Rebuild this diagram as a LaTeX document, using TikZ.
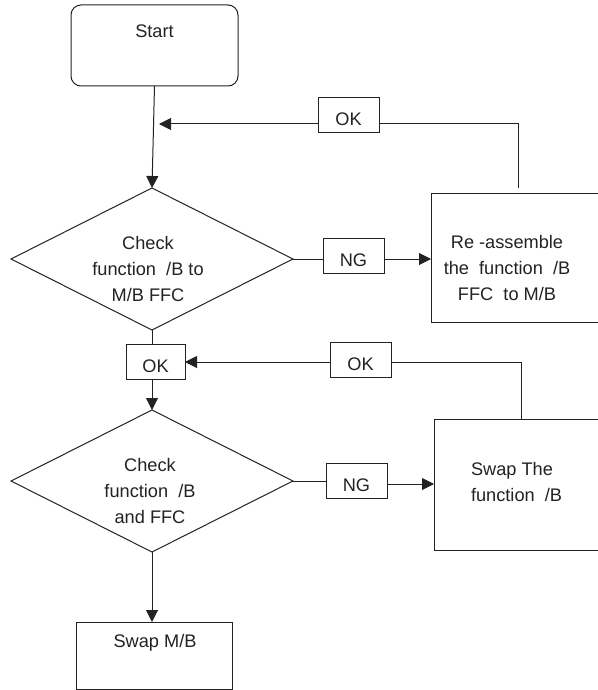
\documentclass[tikz,border=0pt]{standalone}
\usepackage{fontspec}
\setmainfont{Liberation Sans}
\usetikzlibrary{shapes.geometric,arrows.meta,calc}
\definecolor{ink}{HTML}{222222}
\begin{document}
\begin{tikzpicture}[x=1pt,y=-1pt,
  every node/.style={inner sep=0pt, outer sep=0pt, text=ink, font=\fontsize{18.2}{26}\selectfont},
  ln/.style={draw=ink, line width=1pt},
  arr/.style={ln, -{Triangle[length=12pt,width=12pt]}},
  box/.style={ln, rectangle},
  tag/.style={box, minimum width=61pt, minimum height=35pt, text height=21pt, text depth=0pt},
  dia/.style={ln, diamond, minimum width=282pt, minimum height=142pt},
  txt/.style={align=center},
]
\useasboundingbox (0,0) rectangle (597,690);

% shapes
\node[box, rounded corners=10pt, minimum width=167pt, minimum height=81pt] (start) at (154.5,45.5) {};
\node[txt] (starttxt) at (154.5,31) {Start};

\node[dia] (d1) at (152,259) {};
\node[txt] (d1txt) at (148,269) {Check\\function\ \ /B to\\M/B FFC};

\node[tag] (ok1) at (348.5,115) {OK};

\node[box, minimum width=169pt, minimum height=129pt] (reass) at (515.5,257.5) {};
\node[txt] (reasstxt) at (507,268) {Re -assemble\\the\ \ function\ \ /B\\FFC\ \ to M/B};

\node[tag] (ng1) at (353.5,255.5) {NG};

\node[tag, minimum width=59pt] (okL) at (155.5,361.5) {OK};
\node[tag] (okR) at (360.5,359.5) {OK};

\node[dia] (d2) at (152,481) {};
\node[txt] (d2txt) at (150,491) {Check\\function\ \ /B\\and FFC};

\node[tag] (ng2) at (356.5,480.5) {NG};

\node[box, minimum width=166pt, minimum height=131pt] (swap) at (517,484.5) {};
\node[align=left, anchor=west] (swaptxt) at (471,481.5) {Swap The\\function\ \ /B};

\node[box, minimum width=156pt, minimum height=67pt] (swapmb) at (154,655.5) {};
\node[txt] (swapmbtxt) at (155,643) {Swap M/B};

% connectors
\draw[arr] (start.south) -- (d1.north);

\coordinate (fb1) at (518,124);
\coordinate (j1) at (159,124);
\draw[ln] ([xshift=2.5pt,yshift=5pt]reass.north) -- (fb1) -- (ok1.east |- fb1);
\draw[arr] (ok1.west |- fb1) -- (j1);

\draw[ln] (d1.east) -- (ng1.west |- d1.east);
\draw[arr] (ng1.east |- d1.east) -- (reass.west |- d1.east);

\draw[ln] (d1.south) -- (okL.north -| d1.south);
\draw[arr] (okL.south -| d2.north) -- (d2.north);

\coordinate (fb2) at (521,362);
\draw[ln] ([xshift=4pt]swap.north) -- (fb2) -- (okR.east |- fb2);
\draw[arr] (okR.west |- fb2) -- (okL.east |- fb2);

\coordinate (ng2y) at (0,484);
\draw[ln] (d2.east) -- (ng2.west |- d2.east);
\draw[arr] (ng2.east |- ng2y) -- (swap.west |- ng2y);

\draw[arr] (d2.south) -- (swapmb.north -| d2.south);
\end{tikzpicture}
\end{document}
